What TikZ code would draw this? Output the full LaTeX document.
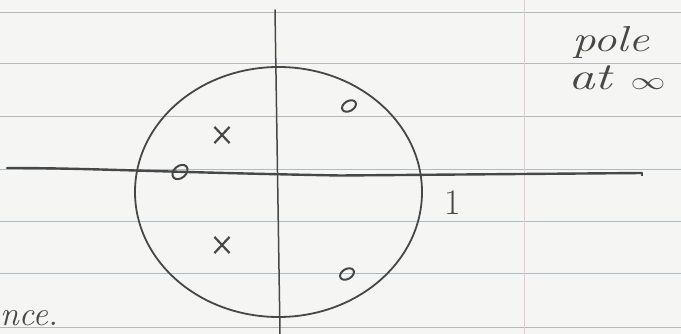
\documentclass[tikz,border=0pt]{standalone}
\usetikzlibrary{shapes.geometric,shapes.misc}
\definecolor{paper}{HTML}{F5F5F3}
\definecolor{rule}{HTML}{AEBBC3}
\definecolor{margin}{HTML}{E9C9CE}
\definecolor{pencil}{HTML}{474747}
\tikzset{
  ruled/.style={rule, line width=1pt},
  pencilline/.style={pencil, line width=1.6pt, line cap=round},
  zeromark/.style={ellipse, draw=pencil, line width=2pt, inner sep=0pt, minimum width=15pt, minimum height=10pt},
  polemark/.style={cross out, draw=pencil, line width=2.2pt, inner sep=0pt, minimum width=13pt, minimum height=14pt},
  hand/.style={text=pencil, inner sep=0pt}
}
\begin{document}
\begin{tikzpicture}[x=1pt,y=-1pt]
\useasboundingbox (0,0) rectangle (681,334);
\clip (0,0) rectangle (681,334);
\fill[paper] (0,0) rectangle (681,334);
% ruled lines
\foreach \yy in {13,64,117,170,222,274,327}
  \draw[ruled] (0,\yy) -- (681,\yy);
% margin line
\draw[margin, line width=1pt] (524,0) -- (524,334);
% axes
\coordinate (hl) at (7,168);
\coordinate (hm) at (340,175.5);
\coordinate (hr) at (642,173);
\coordinate (vt) at (275,10);
\coordinate (vb) at (280,334);
\draw[pencilline, line width=2.4pt] (hl) .. controls (90,168) and (150,172) .. (hm) -- (hr);
\draw[pencil, line width=1.4pt] (hr) -- ++(0,3);
\draw[pencilline, line width=1.5pt] (vt) -- (vb);
% unit circle
\node[ellipse, draw=pencil, line width=1.8pt, minimum width=287pt, minimum height=250pt, inner sep=0pt] (uc) at (278.5,192) {};
% zeros
\node[zeromark, rotate=30] (z1) at (349,106) {};
\node[zeromark, rotate=30] (z2) at (347,274) {};
\node[zeromark, rotate=40, minimum width=17pt, minimum height=12pt] (z3) at (180,172) {};
% poles
\node[polemark] (p1) at (222,135) {};
\node[polemark] (p2) at (222,245) {};
% labels
\node[hand, font=\fontsize{36}{36}\selectfont] (one) at (453,203) {1};
\node[hand, font=\itshape\fontsize{36}{36}\selectfont, anchor=base west] (pole) at (572,52) {\scalebox{1.3}[1]{pole}};
\node[hand, font=\itshape\fontsize{38}{38}\selectfont, anchor=base west] (atinf) at (568,90) {\scalebox{1.4}[1]{at $\infty$}};
\node[hand, font=\itshape\fontsize{34}{34}\selectfont, anchor=base west] (nce) at (0,326) {nce.};
\end{tikzpicture}
\end{document}
